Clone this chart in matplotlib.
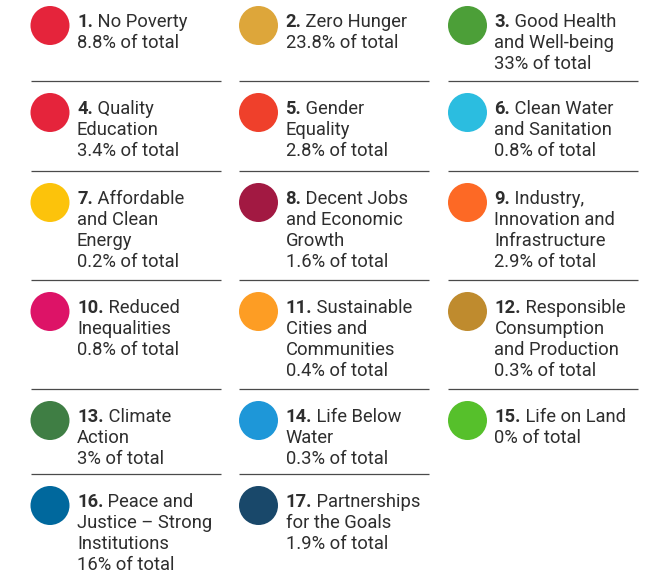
import matplotlib
matplotlib.use("Agg")
import matplotlib.pyplot as plt
from matplotlib.patches import Circle

plt.rcParams["font.family"] = ["Roboto", "DejaVu Sans"]

# data
goal_numbers = list(range(1, 18))
goal_names = [
    "No Poverty",
    "Zero Hunger",
    "Good Health\nand Well-being",
    "Quality\nEducation",
    "Gender\nEquality",
    "Clean Water\nand Sanitation",
    "Affordable\nand Clean\nEnergy",
    "Decent Jobs\nand Economic\nGrowth",
    "Industry,\nInnovation and\nInfrastructure",
    "Reduced\nInequalities",
    "Sustainable\nCities and\nCommunities",
    "Responsible\nConsumption\nand Production",
    "Climate\nAction",
    "Life Below\nWater",
    "Life on Land",
    "Peace and\nJustice \u2013 Strong\nInstitutions",
    "Partnerships\nfor the Goals",
]
share_pct = [8.8, 23.8, 33, 3.4, 2.8, 0.8, 0.2, 1.6, 2.9, 0.8, 0.4, 0.3, 3, 0.3, 0, 16, 1.9]
goal_colors = [
    "#e5243b", "#dda63a", "#4c9f38", "#e5243b", "#ef402b", "#2bbde0",
    "#fcc30b", "#a21942", "#fd6925", "#dd1367", "#fd9d24", "#bf8b2e",
    "#3f7e44", "#1e97d8", "#56c02b", "#00689d", "#19486a",
]

# layout (pixels)
W, H = 661, 575
N_COLS = 3
col_cx = [50, 258.5, 467.5]
row_tops = [-6, 81, 171, 280, 389, 474]
RADIUS = 19.5
TEXT_DX = 27
LINE_H = 21
FS = 13.2
TXT = "#2e2e2e"
RULE = "#4a4a4a"

fig = plt.figure(figsize=(W / 100, H / 100), dpi=100)
ax = fig.add_axes([0, 0, 1, 1])
ax.set_xlim(0, W)
ax.set_ylim(H, 0)
ax.axis("off")

n_rows = len(row_tops)
for i, (num, name, pct, col) in enumerate(zip(goal_numbers, goal_names, share_pct, goal_colors)):
    r, c = divmod(i, N_COLS)
    top = row_tops[r]
    cx = col_cx[c]
    ax.add_patch(Circle((cx, top + 31.5), RADIUS, color=col, lw=0))

    tx = cx + TEXT_DX
    base = top + 33
    parts = name.split("\n")
    b = ax.text(tx, base, f"{num}.", fontsize=FS, fontweight="bold",
                color=TXT, va="baseline", ha="left")
    ax.annotate(" " + parts[0], xy=(1, 0), xycoords=b, va="bottom", ha="left",
                fontsize=FS, color=TXT)
    rest = parts[1:] + [f"{pct:g}% of total"]
    for k, line in enumerate(rest, start=1):
        ax.text(tx, base + k * LINE_H, line, fontsize=FS, color=TXT,
                va="baseline", ha="left")

    # rule under this cell if another item sits below it
    if r + 1 < n_rows and i + N_COLS < len(goal_numbers):
        y = row_tops[r + 1]
        ax.plot([cx - RADIUS, cx - RADIUS + 190], [y, y], color=RULE, lw=0.9,
                solid_capstyle="butt")

fig.savefig("out.png", dpi=100)
